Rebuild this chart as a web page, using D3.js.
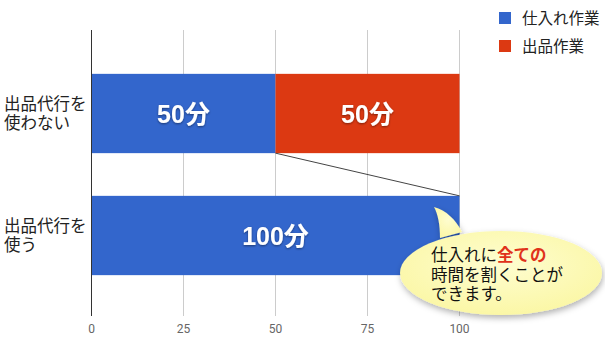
<!DOCTYPE html>
<html>
<head>
<meta charset="utf-8">
<script src="https://cdn.jsdelivr.net/npm/d3@7"></script>
<style>
  body { margin: 0; background: #fff; }
  svg { display: block; font-family: "Noto Sans CJK JP", "Noto Sans", sans-serif; }
</style>
</head>
<body>
<svg id="chart" width="605" height="352"></svg>
<script>
// data
var categories = ["出品代行を使わない", "出品代行を使う"];
var categoryLines = [["出品代行を", "使わない"], ["出品代行を", "使う"]];
var seriesNames = ["仕入れ作業", "出品作業"];
var shiire = [50, 100];
var shuppin = [50, 0];
var valueLabels = [["50分", "50分"], ["100分", ""]];
var ticks = [0, 25, 50, 75, 100];
var colors = ["#3366cc", "#dc3912"];

var svg = d3.select("#chart"),
    xScale = d3.scaleLinear().domain([0, 100]).range([91.5, 459.5]),
    yScale = d3.scaleBand().domain(categories).range([52.5, 296.5])
               .paddingInner(0.35).paddingOuter(0.175);

var defs = svg.append("defs");
var shadow = defs.append("filter").attr("id", "txtshadow")
    .attr("x", "-20%").attr("y", "-20%").attr("width", "140%").attr("height", "140%");
shadow.append("feDropShadow").attr("dx", 0).attr("dy", 1).attr("stdDeviation", 1)
    .attr("flood-color", "#000").attr("flood-opacity", 0.45);
var bshadow = defs.append("filter").attr("id", "bubshadow")
    .attr("x", "-20%").attr("y", "-20%").attr("width", "140%").attr("height", "140%");
bshadow.append("feDropShadow").attr("dx", 1).attr("dy", 3).attr("stdDeviation", 3)
    .attr("flood-color", "#000").attr("flood-opacity", 0.3);
var grad = defs.append("radialGradient").attr("id", "bubgrad")
    .attr("cx", "50%").attr("cy", "40%").attr("r", "60%");
grad.append("stop").attr("offset", "0%").attr("stop-color", "#fefdd0");
grad.append("stop").attr("offset", "100%").attr("stop-color", "#fbf7a6");

// gridlines
svg.append("g")
    .selectAll("line")
    .data(ticks.slice(1))
    .enter().append("line")
    .attr("x1", d => xScale(d)).attr("x2", d => xScale(d))
    .attr("y1", 30).attr("y2", 316)
    .attr("stroke", "#cccccc").attr("stroke-width", 1);

// x tick labels
svg.append("g")
    .selectAll("text")
    .data(ticks)
    .enter().append("text")
    .attr("x", d => xScale(d))
    .attr("y", 333)
    .attr("text-anchor", "middle")
    .attr("font-family", "Roboto, sans-serif")
    .attr("font-size", "12px")
    .attr("fill", "#666")
    .text(d => d);

// stacked bars
var rows = categories.map((c, i) => ({cat: c, parts: [
    {s: 0, x0: 0, x1: shiire[i], label: valueLabels[i][0]},
    {s: 1, x0: shiire[i], x1: shiire[i] + shuppin[i], label: valueLabels[i][1]}
]}));

var rowG = svg.selectAll(".row")
    .data(rows)
    .enter().append("g")
    .attr("class", "row");

rowG.selectAll("rect")
    .data(d => d.parts.filter(p => p.x1 > p.x0).map(p => Object.assign({cat: d.cat}, p)))
    .enter().append("rect")
    .attr("x", d => xScale(d.x0))
    .attr("y", d => yScale(d.cat))
    .attr("width", d => xScale(d.x1) - xScale(d.x0))
    .attr("height", yScale.bandwidth())
    .attr("fill", d => colors[d.s]);

rowG.selectAll(".vlabel")
    .data(d => d.parts.filter(p => p.x1 > p.x0).map(p => Object.assign({cat: d.cat}, p)))
    .enter().append("text")
    .attr("class", "vlabel")
    .attr("x", d => xScale((d.x0 + d.x1) / 2))
    .attr("y", d => yScale(d.cat) + yScale.bandwidth() / 2 + 9)
    .attr("text-anchor", "middle")
    .attr("font-family", "'Liberation Sans', 'Noto Sans CJK JP', sans-serif")
    .attr("font-size", "25px")
    .attr("font-weight", "bold")
    .attr("fill", "#fff")
    .attr("filter", "url(#txtshadow)")
    .text(d => d.label);

// zero axis line
svg.append("line")
    .attr("x1", xScale(0)).attr("x2", xScale(0))
    .attr("y1", 30).attr("y2", 316)
    .attr("stroke", "#333").attr("stroke-width", 1);

// connector line between the two bars
svg.append("line")
    .attr("x1", xScale(shiire[0])).attr("y1", yScale(categories[0]) + yScale.bandwidth())
    .attr("x2", xScale(shiire[1])).attr("y2", yScale(categories[1]))
    .attr("stroke", "#444").attr("stroke-width", 1);

// category labels
categoryLines.forEach((lines, i) => {
    var t = svg.append("text")
        .attr("x", 4)
        .attr("y", yScale(categories[i]) + yScale.bandwidth() / 2 - 4)
        .attr("font-size", "16.5px")
        .attr("fill", "#222");
    lines.forEach((l, j) => {
        t.append("tspan").attr("x", 4).attr("dy", j ? 19.5 : 0).text(l);
    });
});

// legend
var leg = svg.append("g").selectAll("g")
    .data(seriesNames)
    .enter().append("g")
    .attr("transform", (d, i) => `translate(499,${12 + i * 28})`);
leg.append("rect").attr("width", 12).attr("height", 12).attr("fill", (d, i) => colors[i]);
leg.append("text").attr("x", 23).attr("y", 12)
    .attr("font-size", "15.5px").attr("fill", "#222").text(d => d);

// speech bubble
var bub = svg.append("g").attr("filter", "url(#bubshadow)");
bub.append("path")
    .attr("d", "M 440 238 C 440 225, 438 214, 434 207 C 446 210, 456 220, 462 232 Z")
    .attr("fill", "url(#bubgrad)");
bub.append("ellipse")
    .attr("cx", 501).attr("cy", 273).attr("rx", 101).attr("ry", 42)
    .attr("fill", "url(#bubgrad)");

var note = svg.append("g")
    .attr("font-size", "16.5px").attr("fill", "#111");
var n1 = note.append("text").attr("x", 431).attr("y", 261);
n1.append("tspan").text("仕入れに");
n1.append("tspan").attr("fill", "#e0321a").attr("font-weight", "bold").text("全ての");
note.append("text").attr("x", 431).attr("y", 280.5).text("時間を割くことが");
note.append("text").attr("x", 431).attr("y", 300).text("できます。");
</script>
</body>
</html>
